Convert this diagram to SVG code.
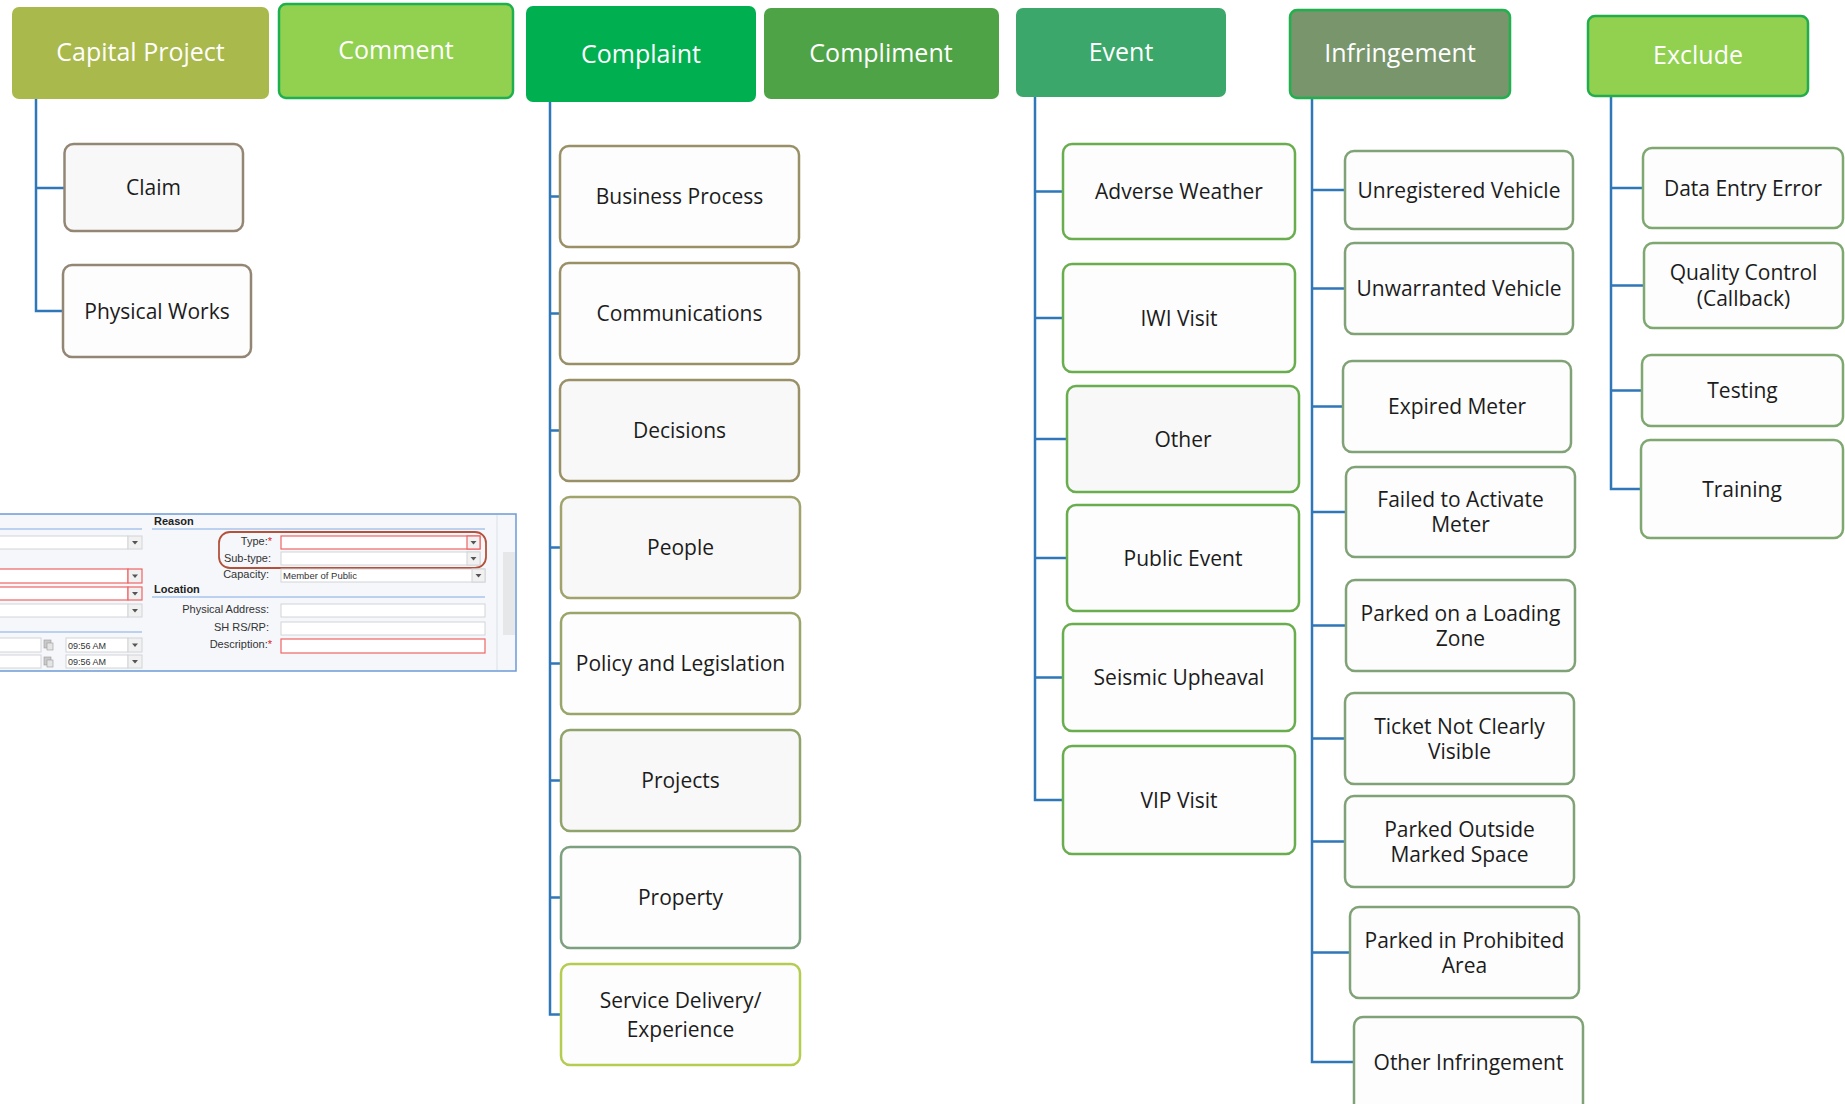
<svg xmlns="http://www.w3.org/2000/svg" width="1845" height="1104" viewBox="0 0 1845 1104">
<style>
  .bg { fill: #ffffff; }
  .hdr rect { rx: 7px; ry: 7px; }
  .hdr text { fill: #ffffff; font-family: "Open Sans", "Noto Sans", sans-serif; font-size: 25px; text-anchor: middle; }
  .node rect { fill: #fdfdfd; stroke-width: 2.5; rx: 9px; ry: 9px; }
  .node text { fill: #1c1c1c; font-family: "Open Sans", "Noto Sans", sans-serif; font-size: 21px; text-anchor: middle; }
  .grey rect { fill: #f8f8f8; }
  .cap rect { stroke: #948675; }
  .evt rect { stroke: #6aad4f; }
  .inf rect { stroke: #80a276; }
  .exc rect { stroke: #7ea86f; }
  .conn path { fill: none; stroke: #2f77b8; stroke-width: 2.5; }
  .ui text { font-family: "Liberation Sans", Arial, sans-serif; font-size: 11px; fill: #333333; }
  .ui .lbl { text-anchor: end; }
  .ui .sec { font-weight: bold; fill: #222222; }
  .ui .fld { fill: #ffffff; stroke: #d2d4d8; stroke-width: 1; }
  .ui .red { fill: #ffffff; stroke: #f06464; stroke-width: 1.2; }
  .ui .btn { fill: #f1f1f1; stroke: #d2d4d8; stroke-width: 1; }
  .ui .btnr { fill: #f1f1f1; stroke: #f06464; stroke-width: 1.2; }
  .ui .tri { fill: #555555; }
  .ui .sep { stroke: #a9c3ec; stroke-width: 1.5; }
  .ui .star { fill: #e02020; }
</style>
<rect class="bg" x="0" y="0" width="1845" height="1104"/>

<!-- connectors -->
<g id="connectors" class="conn">
  <path d="M36,99 V311 H63 M36,188 H64.5"/>
  <path d="M550,102 V1014.5 H560 M550,196.5 H560 M550,313.5 H560 M550,430.5 H560 M550,547.5 H560 M550,663.5 H560 M550,780.5 H560 M550,897.5 H560"/>
  <path d="M1035,97 V800 H1063 M1035,191.5 H1063 M1035,318 H1063 M1035,439 H1067 M1035,558 H1067 M1035,677.5 H1063"/>
  <path d="M1312,98 V1062 H1354 M1312,190 H1345 M1312,288.5 H1345 M1312,406.5 H1343 M1312,512 H1346 M1312,625.5 H1346 M1312,738.5 H1345 M1312,841.5 H1345 M1312,952.5 H1350"/>
  <path d="M1611,96 V489 H1641 M1611,188 H1643 M1611,285.5 H1644 M1611,390.5 H1642"/>
</g>

<!-- headers -->
<g id="h-capital-project" class="hdr"><rect x="12" y="7" width="257" height="92" fill="#aab94b"/><text x="140.5" y="61">Capital Project</text></g>
<g id="h-comment" class="hdr"><rect x="279" y="4" width="234" height="94" fill="#92d050" stroke="#1db04e" stroke-width="2.5"/><text x="396" y="59">Comment</text></g>
<g id="h-complaint" class="hdr"><rect x="526" y="6" width="230" height="96" fill="#00b050"/><text x="641" y="63">Complaint</text></g>
<g id="h-compliment" class="hdr"><rect x="764" y="8" width="235" height="91" fill="#4ea346"/><text x="881" y="62">Compliment</text></g>
<g id="h-event" class="hdr"><rect x="1016" y="8" width="210" height="89" fill="#3ba76a"/><text x="1121" y="61">Event</text></g>
<g id="h-infringement" class="hdr"><rect x="1290" y="10" width="220" height="88" fill="#78956c" stroke="#1eb14e" stroke-width="2.5"/><text x="1400" y="62">Infringement</text></g>
<g id="h-exclude" class="hdr"><rect x="1588" y="16" width="220" height="80" fill="#92d050" stroke="#22ad4d" stroke-width="2.5"/><text x="1698" y="64">Exclude</text></g>

<!-- Capital Project children -->
<g id="n-claim" class="node cap grey"><rect x="64.5" y="144" width="178.5" height="87"/><text x="153.5" y="195">Claim</text></g>
<g id="n-physical-works" class="node cap"><rect x="63" y="265" width="188" height="92"/><text x="157" y="319">Physical Works</text></g>

<!-- Complaint children -->
<g id="n-business-process" class="node"><rect x="560" y="146" width="239" height="101" stroke="#9a9067"/><text x="679.5" y="204">Business Process</text></g>
<g id="n-communications" class="node"><rect x="560" y="263" width="239" height="101" stroke="#9a9067"/><text x="679.5" y="321">Communications</text></g>
<g id="n-decisions" class="node grey"><rect x="560" y="380" width="239" height="101" stroke="#9a9067"/><text x="679.5" y="438">Decisions</text></g>
<g id="n-people" class="node grey"><rect x="561" y="497" width="239" height="101" stroke="#a0a46c"/><text x="680.5" y="555">People</text></g>
<g id="n-policy" class="node"><rect x="561" y="613" width="239" height="101" stroke="#9aa56a"/><text x="680.5" y="671">Policy and Legislation</text></g>
<g id="n-projects" class="node grey"><rect x="561" y="730" width="239" height="101" stroke="#8fa36b"/><text x="680.5" y="788">Projects</text></g>
<g id="n-property" class="node"><rect x="561" y="847" width="239" height="101" stroke="#7da07f"/><text x="680.5" y="905">Property</text></g>
<g id="n-service-delivery" class="node"><rect x="561" y="964" width="239" height="101" stroke="#b4cd50"/><text x="680.5" y="1007.5">Service Delivery/</text><text x="680.5" y="1036.5">Experience</text></g>

<!-- Event children -->
<g id="n-adverse-weather" class="node evt"><rect x="1063" y="144" width="232" height="95"/><text x="1179" y="199">Adverse Weather</text></g>
<g id="n-iwi-visit" class="node evt"><rect x="1063" y="264" width="232" height="108"/><text x="1179" y="325.5">IWI Visit</text></g>
<g id="n-other" class="node evt grey"><rect x="1067" y="386" width="232" height="106"/><text x="1183" y="446.5">Other</text></g>
<g id="n-public-event" class="node evt"><rect x="1067" y="505" width="232" height="106"/><text x="1183" y="565.5">Public Event</text></g>
<g id="n-seismic-upheaval" class="node evt"><rect x="1063" y="624" width="232" height="107"/><text x="1179" y="685">Seismic Upheaval</text></g>
<g id="n-vip-visit" class="node evt"><rect x="1063" y="746" width="232" height="108"/><text x="1179" y="807.5">VIP Visit</text></g>

<!-- Infringement children -->
<g id="n-unregistered-vehicle" class="node inf"><rect x="1345" y="151" width="228" height="78"/><text x="1459" y="197.5">Unregistered Vehicle</text></g>
<g id="n-unwarranted-vehicle" class="node inf"><rect x="1345" y="243" width="228" height="91"/><text x="1459" y="296">Unwarranted Vehicle</text></g>
<g id="n-expired-meter" class="node inf"><rect x="1343" y="361" width="228" height="91"/><text x="1457" y="414">Expired Meter</text></g>
<g id="n-failed-activate" class="node inf"><rect x="1346" y="467" width="229" height="90"/><text x="1460.5" y="507">Failed to Activate</text><text x="1460.5" y="532">Meter</text></g>
<g id="n-loading-zone" class="node inf"><rect x="1346" y="580" width="229" height="91"/><text x="1460.5" y="621">Parked on a Loading</text><text x="1460.5" y="646">Zone</text></g>
<g id="n-ticket-visible" class="node inf"><rect x="1345" y="693" width="229" height="91"/><text x="1459.5" y="734">Ticket Not Clearly</text><text x="1459.5" y="759">Visible</text></g>
<g id="n-outside-space" class="node inf"><rect x="1345" y="796" width="229" height="91"/><text x="1459.5" y="837">Parked Outside</text><text x="1459.5" y="862">Marked Space</text></g>
<g id="n-prohibited-area" class="node inf"><rect x="1350" y="907" width="229" height="91"/><text x="1464.5" y="948">Parked in Prohibited</text><text x="1464.5" y="973">Area</text></g>
<g id="n-other-infringement" class="node inf"><rect x="1354" y="1017" width="229" height="100"/><text x="1468.5" y="1069.5">Other Infringement</text></g>

<!-- Exclude children -->
<g id="n-data-entry-error" class="node exc"><rect x="1643" y="148" width="200" height="80"/><text x="1743" y="195.5">Data Entry Error</text></g>
<g id="n-quality-control" class="node exc"><rect x="1644" y="243" width="199" height="85"/><text x="1743.5" y="280">Quality Control</text><text x="1743.5" y="305.5">(Callback)</text></g>
<g id="n-testing" class="node exc"><rect x="1642" y="355" width="201" height="71"/><text x="1742.5" y="398">Testing</text></g>
<g id="n-training" class="node exc"><rect x="1641" y="440" width="202" height="98"/><text x="1742" y="496.5">Training</text></g>

<!-- form screenshot -->
<g id="form-screenshot" class="ui">
  <rect x="-2" y="514" width="518" height="157" fill="#f5f7fb" stroke="#6d9ad6" stroke-width="1.5"/>
  <line x1="497" y1="515" x2="497" y2="670" stroke="#dcdfe4" stroke-width="1"/>
  <rect x="503" y="552" width="12" height="83" fill="#e6e7e9"/>
  <!-- left column -->
  <line class="sep" x1="0" y1="529" x2="142" y2="529"/>
  <rect class="fld" x="-1" y="536" width="129" height="13"/><rect class="btn" x="128" y="536" width="14" height="13"/><path class="tri" d="M132,541 h6 l-3,3.5 z"/>
  <rect class="red" x="-1" y="569" width="129" height="14"/><rect class="btnr" x="128" y="569" width="14" height="14"/><path class="tri" d="M132,574.5 h6 l-3,3.5 z"/>
  <rect class="red" x="-1" y="587" width="129" height="13"/><rect class="btnr" x="128" y="587" width="14" height="13"/><path class="tri" d="M132,592 h6 l-3,3.5 z"/>
  <rect class="fld" x="-1" y="604" width="129" height="13"/><rect class="btn" x="128" y="604" width="14" height="13"/><path class="tri" d="M132,609 h6 l-3,3.5 z"/>
  <line class="sep" x1="0" y1="632" x2="142" y2="632"/>
  <rect class="fld" x="-1" y="638" width="42" height="14"/>
  <rect x="44" y="640" width="7" height="8" fill="#c9c9c9" stroke="#9a9a9a" stroke-width="0.6"/><rect x="47" y="643" width="6" height="7" fill="#e4e4e4" stroke="#9a9a9a" stroke-width="0.6"/>
  <rect class="fld" x="66" y="638" width="62" height="14"/><rect class="btn" x="128" y="638" width="14" height="14"/><path class="tri" d="M132,643.5 h6 l-3,3.5 z"/>
  <text x="68" y="648.5" style="font-size:9px">09:56 AM</text>
  <rect class="fld" x="-1" y="655" width="42" height="13"/>
  <rect x="44" y="657" width="7" height="8" fill="#c9c9c9" stroke="#9a9a9a" stroke-width="0.6"/><rect x="47" y="660" width="6" height="7" fill="#e4e4e4" stroke="#9a9a9a" stroke-width="0.6"/>
  <rect class="fld" x="66" y="655" width="62" height="13"/><rect class="btn" x="128" y="655" width="14" height="13"/><path class="tri" d="M132,660 h6 l-3,3.5 z"/>
  <text x="68" y="665" style="font-size:9px">09:56 AM</text>
  <!-- right column -->
  <text class="sec" x="154" y="525">Reason</text>
  <line class="sep" x1="152" y1="529" x2="485" y2="529"/>
  <text class="lbl" x="272" y="545">Type:<tspan class="star">*</tspan></text>
  <rect class="red" x="281" y="536" width="199" height="13"/><rect class="btnr" x="467" y="536" width="13" height="13"/><path class="tri" d="M470.5,541 h6 l-3,3.5 z"/>
  <text class="lbl" x="271" y="562">Sub-type:</text>
  <rect class="fld" x="281" y="552" width="199" height="13"/><rect class="btn" x="467" y="552" width="13" height="13"/><path class="tri" d="M470.5,557 h6 l-3,3.5 z"/>
  <rect x="219" y="532" width="267" height="36" rx="11" ry="11" fill="none" stroke="#b4513a" stroke-width="1.8"/>
  <text class="lbl" x="269" y="578">Capacity:</text>
  <rect class="fld" x="281" y="569" width="204" height="13"/><rect class="btn" x="472" y="569" width="13" height="13"/><path class="tri" d="M475.5,574 h6 l-3,3.5 z"/>
  <text x="283" y="578.5" style="font-size:9.5px">Member of Public</text>
  <text class="sec" x="154" y="593">Location</text>
  <line class="sep" x1="152" y1="597" x2="485" y2="597"/>
  <text class="lbl" x="269" y="613">Physical Address:</text>
  <rect class="fld" x="281" y="604" width="204" height="13"/>
  <text class="lbl" x="269" y="631">SH RS/RP:</text>
  <rect class="fld" x="281" y="622" width="204" height="13"/>
  <text class="lbl" x="272" y="648">Description:<tspan class="star">*</tspan></text>
  <rect class="red" x="281" y="639" width="204" height="14"/>
</g>
</svg>
